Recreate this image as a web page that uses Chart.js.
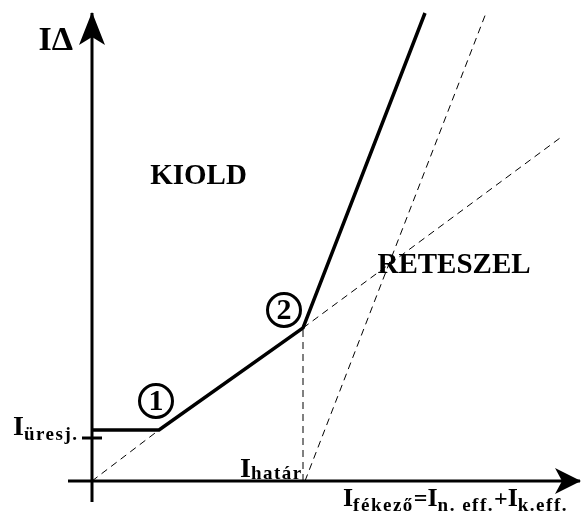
<!DOCTYPE html>
<html>
<head>
<meta charset="utf-8">
<script src="https://cdn.jsdelivr.net/npm/chart.js@4"></script>
<style>
  html, body { margin: 0; padding: 0; background: #fff; }
  #chart { display: block; }
</style>
</head>
<body>
<canvas id="chart" width="581" height="517"></canvas>
<script>
// ===== DATA (units along the axes) =====
// solid tripping characteristic: idle level -> knee 1 -> knee 2 -> steep part
const tripX = [0, 6.7, 21.1, 33.3];
const tripY = [5.1, 5.1, 15.3, 46.8];
// dashed: slope-1 line from the origin and its extension past knee 2
const slopeLowX = [0, 6.7];
const slopeLowY = [0, 5.1];
const slopeExtX = [21.1, 46.8];
const slopeExtY = [15.3, 34.3];
// dashed: vertical at I_határ and steep line starting from I_határ
const limitX = [21.1, 21.1];
const limitY = [0, 15.3];
const steepX = [21.3, 39.4];
const steepY = [0, 46.8];
// axes
const axisXRange = [-2.4, 48.8];
const axisYRange = [-2.1, 46.8];
const idleTick = 4.3;

function pts(xs, ys) {
  return xs.map((x, i) => ({ x: x, y: ys[i] }));
}

function lineSet(xs, ys, width, dash) {
  return {
    data: pts(xs, ys),
    showLine: true,
    borderColor: '#000',
    borderWidth: width,
    borderDash: dash || [],
    pointRadius: 0,
    fill: false,
    tension: 0
  };
}

// ===== ANNOTATIONS (arrows, circles, texts) =====
const SERIF = '"Liberation Serif", "DejaVu Serif", serif';

function drawRich(ctx, x, y, parts) {
  // parts: [text, size, dy, spacing]
  ctx.textAlign = 'left';
  ctx.textBaseline = 'alphabetic';
  parts.forEach(p => {
    ctx.font = 'bold ' + p[1] + 'px ' + SERIF;
    ctx.letterSpacing = (p[3] || 0) + 'px';
    ctx.fillText(p[0], x, y + p[2]);
    x += ctx.measureText(p[0]).width;
  });
  ctx.letterSpacing = '0px';
}

const annotations = {
  id: 'annotations',
  afterDatasetsDraw(chart) {
    const ctx = chart.ctx;
    const sx = chart.scales.x, sy = chart.scales.y;
    const px = v => sx.getPixelForValue(v);
    const py = v => sy.getPixelForValue(v);
    ctx.save();
    ctx.fillStyle = '#000';
    ctx.strokeStyle = '#000';

    // arrow heads
    const ox = px(0), oy = py(0);
    const ty = py(axisYRange[1]);
    ctx.beginPath();
    ctx.moveTo(ox, ty - 1);
    ctx.lineTo(ox - 13, ty + 32);
    ctx.lineTo(ox, ty + 24);
    ctx.lineTo(ox + 13, ty + 32);
    ctx.closePath();
    ctx.fill();
    const tx = px(axisXRange[1]);
    ctx.beginPath();
    ctx.moveTo(tx + 1, oy);
    ctx.lineTo(tx - 25, oy - 13);
    ctx.lineTo(tx - 18, oy);
    ctx.lineTo(tx - 25, oy + 13);
    ctx.closePath();
    ctx.fill();

    // idle current tick
    ctx.lineWidth = 3;
    ctx.beginPath();
    ctx.moveTo(ox - 10, py(idleTick));
    ctx.lineTo(ox + 10, py(idleTick));
    ctx.stroke();

    // numbered circles near the knees
    [[6.4, 8.0, '1'], [19.2, 17.1, '2']].forEach(c => {
      const cx = px(c[0]), cy = py(c[1]);
      ctx.lineWidth = 3;
      ctx.beginPath();
      ctx.arc(cx, cy, 16.5, 0, Math.PI * 2);
      ctx.stroke();
      ctx.font = 'bold 30px ' + SERIF;
      ctx.textAlign = 'center';
      ctx.textBaseline = 'middle';
      ctx.fillText(c[2], cx, cy + 1);
    });

    // region labels
    ctx.font = 'bold 29px ' + SERIF;
    ctx.textAlign = 'center';
    ctx.textBaseline = 'alphabetic';
    ctx.fillText('KIOLD', px(10.65), py(29.7));
    ctx.fillText('RETESZEL', px(36.2), py(20.8));

    // axis titles
    ctx.font = 'bold 34px ' + SERIF;
    ctx.textAlign = 'right';
    ctx.fillText('I\u0394', ox - 19, py(43.1));

    drawRich(ctx, px(-7.9), py(4.6), [['I', 28, 0], ['üresj.', 19, 5, 1.5]]);
    drawRich(ctx, px(14.8), py(0.4), [['I', 28, 0], ['határ', 19, 2, 1.5]]);
    drawRich(ctx, px(25.1), py(-2.5), [
      ['I', 26, 0], ['fékező', 19, 5, 1.5], ['=', 24, 0],
      ['I', 26, 0], ['n. eff.', 19, 5, 1.5], ['+', 24, 0],
      ['I', 26, 0], ['k.eff.', 19, 5, 1.5]
    ]);
    ctx.restore();
  }
};

// ===== CHART =====
const ctx = document.getElementById('chart');
new Chart(ctx, {
  type: 'scatter',
  data: {
    datasets: [
      lineSet(axisXRange, [0, 0], 3),
      lineSet([0, 0], axisYRange, 3),
      lineSet(slopeLowX, slopeLowY, 1, [7, 5]),
      lineSet(slopeExtX, slopeExtY, 1, [7, 5]),
      lineSet(limitX, limitY, 1, [7, 5]),
      lineSet(steepX, steepY, 1, [7, 5]),
      lineSet(tripX, tripY, 3.5)
    ]
  },
  options: {
    responsive: false,
    animation: false,
    layout: { padding: 0 },
    plugins: { legend: { display: false }, tooltip: { enabled: false } },
    scales: {
      x: { type: 'linear', min: -9.2, max: 48.9, display: false },
      y: { type: 'linear', min: -3.6, max: 48.1, display: false }
    }
  },
  plugins: [annotations]
});
</script>
</body>
</html>
